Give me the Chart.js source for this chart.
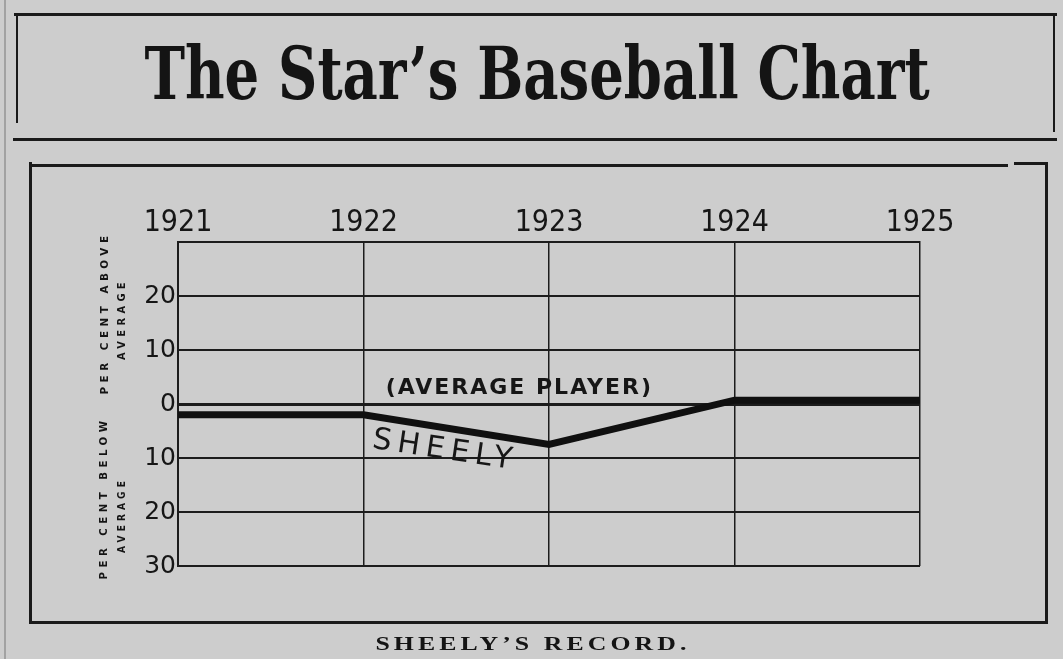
<!DOCTYPE html>
<html>
<head>
<meta charset="utf-8">
<title>The Star's Baseball Chart</title>
<script src="https://cdn.jsdelivr.net/npm/chart.js@4/dist/chart.umd.min.js"></script>
<style>
  html, body { margin: 0; padding: 0; background: #cdcdcd; }
  #page { position: relative; width: 1063px; height: 659px; overflow: hidden; background: #cdcdcd; }
  #c { position: absolute; left: 0; top: 0; }
  .rule { position: absolute; background: #1a1a1a; }
  .txt { position: absolute; white-space: nowrap; color: #141414; line-height: 1; }
  #title { left: 537px; top: 73px; font-family: "DejaVu Serif Condensed", "DejaVu Serif", serif; font-weight: bold; font-size: 72px; transform-origin: center center; }
  #caption { left: 533px; top: 643px; font-family: "Liberation Serif", "DejaVu Serif", serif; font-weight: bold; font-size: 19px; letter-spacing: 3px; transform-origin: center center; }
  .side { font-family: "DejaVu Sans", sans-serif; font-weight: bold; font-size: 10px; letter-spacing: 4.4px; }
</style>
</head>
<body>
<div id="page">
  <canvas id="c" width="1063" height="659"></canvas>

  <!-- page column rule -->
  <div class="rule" style="left:4px;top:0;width:2px;height:659px;background:#a2a2a2;"></div>
  <!-- title box -->
  <div class="rule" style="left:14px;top:13px;width:1043px;height:3px;"></div>
  <div class="rule" style="left:16px;top:15px;width:2px;height:108px;"></div>
  <div class="rule" style="left:1053px;top:15px;width:2px;height:117px;"></div>
  <div class="rule" style="left:13px;top:138px;width:1044px;height:3px;"></div>
  <!-- chart frame -->
  <div class="rule" style="left:30px;top:164px;width:978px;height:3px;"></div>
  <div class="rule" style="left:1014px;top:162px;width:34px;height:3px;"></div>
  <div class="rule" style="left:29px;top:162px;width:3px;height:462px;"></div>
  <div class="rule" style="left:1045px;top:162px;width:3px;height:459px;"></div>
  <div class="rule" style="left:30px;top:621px;width:1018px;height:3px;"></div>

  <div id="title" class="txt">The Star’s Baseball Chart</div>
  <div id="caption" class="txt">SHEELY’S RECORD.</div>

  <div class="txt side" id="s1">PER CENT ABOVE</div>
  <div class="txt side" id="s2">AVERAGE</div>
  <div class="txt side" id="s3">PER CENT BELOW</div>
  <div class="txt side" id="s4">AVERAGE</div>
</div>

<script>
// ---------------- data ----------------
const years = [1921, 1922, 1923, 1924, 1925];
const sheelyValues = [-2, -2, -7.5, 0.7, 0.7];
const yTickValues = [-30, -20, -10, 0, 10, 20, 30];
const yTickLabels = ['30', '20', '10', '0', '10', '20', ''];
const seriesName = 'SHEELY';
const baselineName = '(AVERAGE PLAYER)';

// ---------------- text fitting ----------------
function fit(id, targetWidth, cx, cy, rot) {
  const el = document.getElementById(id);
  const w = el.offsetWidth;
  const s = targetWidth ? targetWidth / w : 1;
  el.style.left = cx + 'px';
  el.style.top = cy + 'px';
  el.style.transform = 'translate(-50%,-50%)' + (rot ? ' rotate(' + rot + 'deg)' : '') + ' scaleX(' + s + ')';
}
fit('title', 785, 537, 74, 0);
fit('caption', 315, 533, 643, 0);
fit('s1', 163, 105, 313, -90);
fit('s2', 82, 122, 319, -90);
fit('s3', 163, 104, 498, -90);
fit('s4', 76, 122, 515, -90);

// ---------------- chart ----------------
const ink = '#161616';

const annotations = {
  id: 'annotations',
  afterDatasetsDraw(chart) {
    const { ctx, scales: { x, y } } = chart;
    ctx.save();
    ctx.fillStyle = ink;
    ctx.font = 'bold 22px "DejaVu Sans", sans-serif';
    try { ctx.letterSpacing = '2px'; } catch (e) {}
    ctx.textAlign = 'center';
    ctx.textBaseline = 'alphabetic';
    ctx.fillText(baselineName, x.getPixelForValue(1922.84), y.getPixelForValue(1.9));

    ctx.translate(x.getPixelForValue(1922.44), y.getPixelForValue(-8.7));
    ctx.rotate(8.5 * Math.PI / 180);
    ctx.font = '30px "DejaVu Sans", sans-serif';
    try { ctx.letterSpacing = '6px'; } catch (e) {}
    ctx.textBaseline = 'middle';
    ctx.fillText(seriesName, 0, 0);
    ctx.restore();
  }
};

new Chart(document.getElementById('c'), {
  type: 'line',
  data: {
    datasets: [
      {
        label: seriesName,
        data: years.map((yr, i) => ({ x: yr, y: sheelyValues[i] })),
        borderColor: '#101010',
        borderWidth: 7,
        pointRadius: 0,
        tension: 0,
        fill: false,
        borderCapStyle: 'butt',
        borderJoinStyle: 'miter',
        clip: false
      }
    ]
  },
  options: {
    responsive: false,
    animation: false,
    devicePixelRatio: 1,
    layout: { padding: { left: 128, right: 143, top: 202, bottom: 93 } },
    plugins: { legend: { display: false }, tooltip: { enabled: false }, title: { display: false } },
    scales: {
      x: {
        type: 'linear',
        position: 'top',
        min: years[0],
        max: years[years.length - 1],
        afterBuildTicks: s => { s.ticks = years.map(v => ({ value: v })); },
        afterFit: s => { s.height = 40; },
        ticks: {
          callback: v => String(v),
          color: ink,
          padding: 1,
          maxRotation: 0,
          autoSkip: false,
          font: { family: '"Liberation Sans Narrow", "DejaVu Sans Condensed", sans-serif', size: 30 }
        },
        grid: { color: '#1c1c1c', lineWidth: 1.5, drawTicks: false },
        border: { color: '#1c1c1c', width: 2 }
      },
      y: {
        type: 'linear',
        min: -30,
        max: 30,
        afterBuildTicks: s => { s.ticks = yTickValues.map(v => ({ value: v })); },
        afterFit: s => { s.width = 50; },
        ticks: {
          callback: (v, i) => yTickLabels[i],
          color: ink,
          padding: 2,
          autoSkip: false,
          font: { family: '"DejaVu Sans", sans-serif', size: 25 }
        },
        grid: {
          color: '#1c1c1c',
          lineWidth: c => (c.tick && c.tick.value === 0 ? 3 : 2),
          drawTicks: false
        },
        border: { color: '#1c1c1c', width: 2 }
      }
    }
  },
  plugins: [annotations]
});
</script>
</body>
</html>
